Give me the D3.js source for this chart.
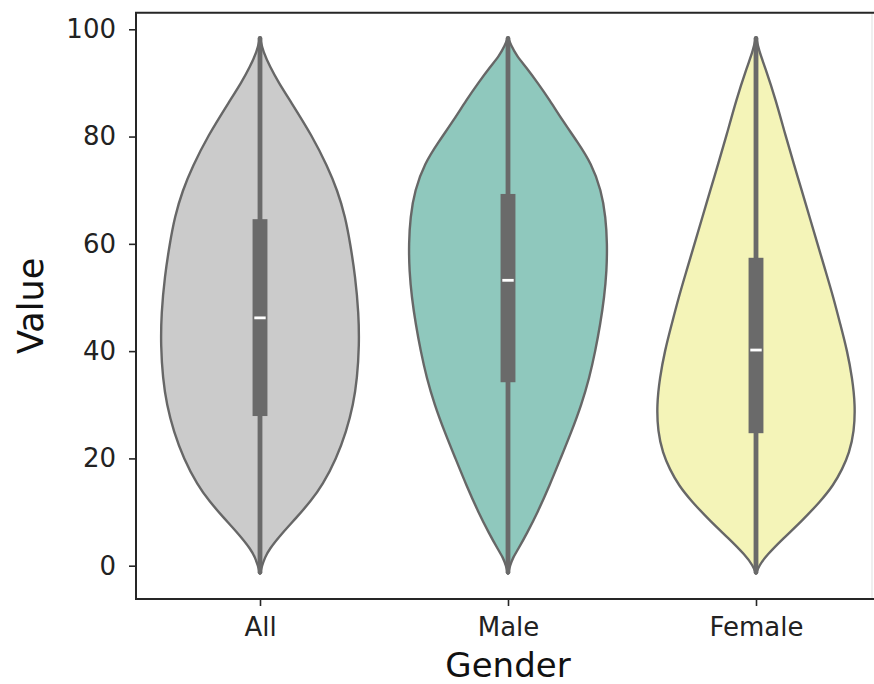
<!DOCTYPE html>
<html><head><meta charset="utf-8">
<script src="https://cdn.jsdelivr.net/npm/d3@7/dist/d3.min.js"></script>
<style>body{margin:0;background:#fff}</style></head>
<body><svg id="chart" width="874" height="684"></svg>
<script>
const categories = ["All", "Male", "Female"];
const fillColors = ["#cbcbcb", "#8fc8bd", "#f4f4b8"];
const yTicks = [0, 20, 40, 60, 80, 100];
const xLabel = "Gender";
const yLabel = "Value";

// violin density profiles: [value, relative half-width (0-100)]
const allProfile = [[-1.5,0],[0,2],[1.5,5],[3,9],[6,22],[9,37],[12,51],[15,63],[20,77],[25,87],[30,94],[35,98],[41,100],[47,99.5],[54,96],[60,91],[65,86],[70,78],[74.4,68],[80,53],[86.8,30],[90,19],[93,10],[96,3],[97.5,1],[98.5,0]];
const maleProfile = [[-1.5,0],[0,2],[1.5,5],[3,10],[6,19],[10,30],[15,42],[20,53],[25,64],[30,74],[35,82],[40,88],[45,93],[50,97],[55,99.5],[60,100],[65,98.5],[70,94],[75,84],[79,70],[83,55],[86.8,42],[90,30],[93,18],[95,9],[97,3],[98.5,0]];
const femaleProfile = [[-1.5,0],[0,3],[2,11],[5,27],[8.3,46],[12,65],[15,78],[18,87],[21,94],[25,99],[30,100],[35,97],[40,92],[45,85],[50,78],[55,70],[60,62],[65,54],[70,46],[75,38],[80,30],[86.8,20],[93,9],[96,3],[98.5,0]];
const profiles = [allProfile, maleProfile, femaleProfile];

// inner box statistics
const q1 = [27.9, 34.2, 24.7];
const medians = [46.2, 53.2, 40.2];
const q3 = [64.6, 69.3, 57.4];
const whiskerLow = [-1.2, -1.2, -1.2];
const whiskerHigh = [98.3, 98.3, 98.3];

const svg = d3.select("#chart");
const font = "'DejaVu Sans', sans-serif";
const pLeft = 136, pRight = 880, pTop = 12.7, pBottom = 599;

const x = d3.scaleLinear().domain([-0.5, 2.5]).range([pLeft, pRight]);
const y = d3.scaleLinear().domain([-6.21, 103.09]).range([pBottom, pTop]);
const step = x(1) - x(0);
const w = d3.scaleLinear().domain([0, 100]).range([0, 0.4 * step]);

const plot = svg.append("g");

categories.forEach((c, i) => {
  const cx = x(i);
  const area = d3.area()
    .curve(d3.curveBasis)
    .y(d => y(d[0]))
    .x0(d => cx - w(d[1]))
    .x1(d => cx + w(d[1]));
  plot.append("path")
    .datum(profiles[i])
    .attr("d", area)
    .attr("fill", fillColors[i])
    .attr("stroke", "#676767")
    .attr("stroke-width", 2.4)
    .attr("stroke-linejoin", "round");
  plot.append("line")
    .attr("x1", cx).attr("x2", cx)
    .attr("y1", y(whiskerLow[i])).attr("y2", y(whiskerHigh[i]))
    .attr("stroke", "#6a6a6a").attr("stroke-width", 4.8)
    .attr("stroke-linecap", "round");
  const bw = 0.06 * step;
  plot.append("rect")
    .attr("x", cx - bw / 2).attr("width", bw)
    .attr("y", y(q3[i])).attr("height", y(q1[i]) - y(q3[i]))
    .attr("fill", "#6a6a6a");
  const mw = 0.046 * step;
  plot.append("line")
    .attr("x1", cx - mw / 2).attr("x2", cx + mw / 2)
    .attr("y1", y(medians[i])).attr("y2", y(medians[i]))
    .attr("stroke", "#ffffff").attr("stroke-width", 2.8);
});

svg.append("line").attr("x1", 872).attr("x2", 872).attr("y1", pTop).attr("y2", pBottom)
  .attr("stroke", "#e4e4e4").attr("stroke-width", 1.2);
svg.append("path")
  .attr("d", `M${pRight},${pTop}H${pLeft}V${pBottom}H${pRight}`)
  .attr("fill", "none").attr("stroke", "#262626").attr("stroke-width", 2);

const yAxis = svg.append("g").attr("transform", `translate(${pLeft},0)`)
  .call(d3.axisLeft(y).tickValues(yTicks).tickSize(7).tickPadding(13));
const xAxis = svg.append("g").attr("transform", `translate(0,${pBottom})`)
  .call(d3.axisBottom(x).tickValues([0, 1, 2]).tickFormat(i => categories[i]).tickSize(7).tickPadding(12));
[yAxis, xAxis].forEach(g => {
  g.select(".domain").remove();
  g.selectAll(".tick line").attr("stroke", "#262626").attr("stroke-width", 1.6);
  g.selectAll(".tick text").attr("fill", "#222").style("font-family", font).style("font-size", "26px");
});

svg.append("text")
  .attr("x", (pLeft + pRight) / 2).attr("y", 677)
  .attr("text-anchor", "middle")
  .style("font-family", font).style("font-size", "34px").attr("fill", "#111")
  .text(xLabel);
svg.append("text")
  .attr("transform", `translate(43,${(pTop + pBottom) / 2}) rotate(-90)`)
  .attr("text-anchor", "middle")
  .style("font-family", font).style("font-size", "35px").attr("fill", "#111")
  .text(yLabel);
</script>
</body></html>
